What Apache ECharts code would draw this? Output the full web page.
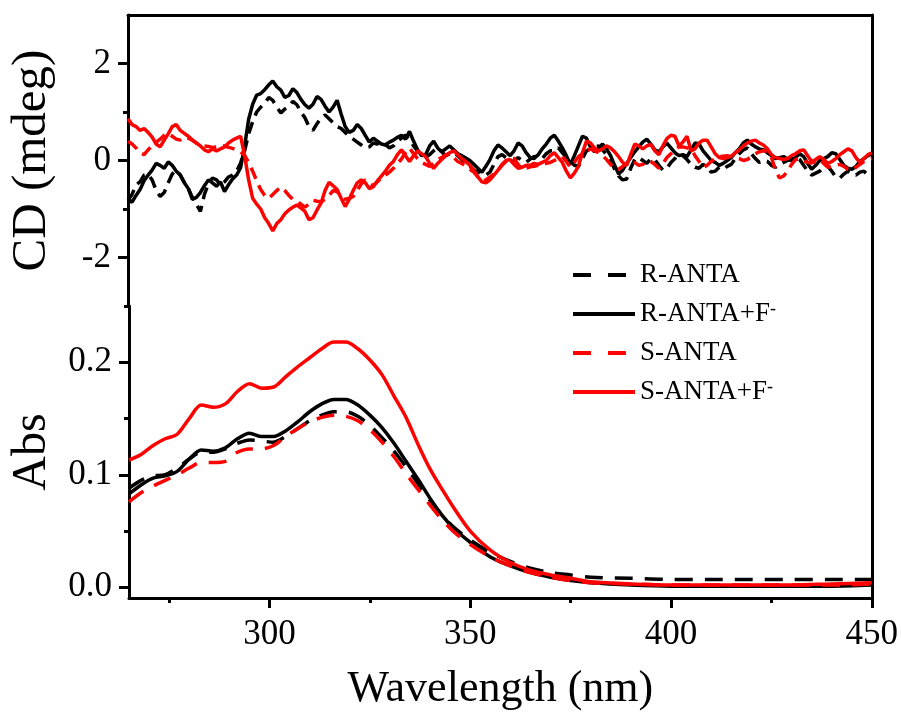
<!DOCTYPE html>
<html>
<head>
<meta charset="utf-8">
<script src="https://cdn.jsdelivr.net/npm/echarts@6/dist/echarts.min.js"></script>
<style>
html,body{margin:0;padding:0;background:#fff;}
#chart{width:901px;height:713px;}
</style>
</head>
<body>
<div id="chart"></div>
<script>
// ---------- DATA ----------
var seriesNames = ['R-ANTA', 'R-ANTA+F-', 'S-ANTA', 'S-ANTA+F-'];

// CD panel wavelengths (nm)
var cdWavelength = [265,266,267,268,269,270,271,272,273,274,275,276,277,278,279,280,281,282,283,284,285,286,287,288,289,290,291,292,293,294,295,296,297,298,299,300,301,302,303,304,305,306,307,308,309,310,311,312,313,314,315,316,317,318,319,320,321,322,323,324,325,326,327,328,329,330,331,332,333,334,335,336,337,338,339,340,341,342,343,344,345,346,347,348,349,350,351,352,353,354,355,356,357,358,359,360,361,362,363,364,365,366,367,368,369,370,371,372,373,374,375,376,377,378,379,380,381,382,383,384,385,386,387,388,389,390,391,392,393,394,395,396,397,398,399,400,401,402,403,404,405,406,407,408,409,410,411,412,413,414,415,416,417,418,419,420,421,422,423,424,425,426,427,428,429,430,431,432,433,434,435,436,437,438,439,440,441,442,443,444,445,446,447,448,449,450];

var cdR = [-0.82,-0.70,-0.50,-0.44,-0.30,-0.28,-0.40,-0.62,-0.74,-0.66,-0.46,-0.28,-0.20,-0.30,-0.45,-0.58,-0.76,-0.90,-1.05,-0.70,-0.48,-0.36,-0.40,-0.50,-0.44,-0.34,-0.30,-0.22,-0.05,0.20,0.55,0.80,1.00,1.10,1.18,1.30,1.24,1.10,0.98,1.06,1.12,1.22,1.15,1.00,0.88,0.70,0.62,0.76,0.88,0.94,0.86,0.78,0.70,0.66,0.58,0.50,0.44,0.38,0.32,0.26,0.28,0.36,0.34,0.38,0.33,0.26,0.30,0.40,0.46,0.52,0.44,0.30,0.20,0.12,0.06,0.12,0.20,0.26,0.18,0.10,0.14,0.16,0.10,0.02,-0.08,-0.12,-0.20,-0.24,-0.27,-0.30,-0.24,-0.08,0.08,0.12,0.06,-0.04,0.00,0.06,0.00,-0.04,0.03,0.08,0.09,0.04,0.14,0.20,0.20,0.26,0.16,0.06,-0.02,-0.10,-0.12,0.04,0.20,0.24,0.28,0.30,0.22,0.12,0.02,-0.18,-0.32,-0.40,-0.38,-0.16,0.02,0.06,0.00,-0.06,0.04,0.02,-0.10,-0.20,-0.16,-0.04,0.04,0.14,0.10,0.02,-0.08,-0.14,-0.16,-0.08,-0.14,-0.24,-0.22,-0.14,-0.18,-0.12,-0.08,0.04,0.14,0.22,0.26,0.14,0.04,-0.04,0.00,-0.02,-0.10,-0.14,-0.08,-0.04,0.00,0.06,0.08,0.02,-0.10,-0.22,-0.30,-0.26,-0.22,-0.14,-0.12,-0.22,-0.34,-0.36,-0.28,-0.22,-0.27,-0.30,-0.24,-0.22,-0.30,-0.35];

var cdRF = [-0.80,-0.86,-0.72,-0.60,-0.42,-0.30,-0.20,-0.06,-0.10,-0.16,-0.03,-0.10,-0.22,-0.30,-0.46,-0.58,-0.80,-0.76,-0.66,-0.52,-0.40,-0.46,-0.53,-0.44,-0.64,-0.50,-0.38,-0.30,-0.15,0.30,0.85,1.16,1.35,1.38,1.46,1.56,1.64,1.52,1.45,1.30,1.34,1.48,1.40,1.26,1.15,1.08,1.16,1.32,1.26,1.12,1.00,1.10,1.24,0.96,0.70,0.58,0.62,0.74,0.66,0.52,0.38,0.46,0.40,0.34,0.32,0.38,0.42,0.48,0.52,0.44,0.60,0.40,0.22,0.10,0.12,0.30,0.40,0.26,0.18,0.24,0.30,0.22,0.14,0.10,0.05,0.00,-0.08,-0.16,-0.24,-0.12,0.02,0.20,0.32,0.26,0.18,0.10,0.20,0.36,0.30,0.16,0.06,0.04,0.12,0.24,0.34,0.46,0.52,0.40,0.26,0.10,-0.08,0.10,0.30,0.50,0.46,0.28,0.18,0.26,0.34,0.24,0.10,-0.10,-0.28,-0.20,-0.06,0.06,0.18,0.28,0.38,0.44,0.34,0.22,0.18,0.28,0.36,0.26,0.16,0.10,0.12,0.08,0.22,0.36,0.34,0.20,0.10,0.00,-0.04,-0.10,-0.06,0.00,0.06,0.16,0.24,0.36,0.42,0.34,0.28,0.24,0.22,0.16,0.10,0.04,0.06,0.08,0.03,0.00,0.06,0.14,0.08,-0.06,-0.18,-0.10,0.00,0.04,0.08,0.16,0.14,0.02,-0.10,-0.16,-0.18,-0.12,-0.02,0.04,0.10,0.14];

var cdS = [0.40,0.34,0.26,0.16,0.12,0.22,0.30,0.38,0.44,0.52,0.56,0.50,0.44,0.42,0.48,0.46,0.42,0.36,0.33,0.30,0.29,0.27,0.28,0.31,0.30,0.27,0.25,0.22,0.18,0.10,-0.04,-0.22,-0.42,-0.60,-0.72,-0.78,-0.70,-0.62,-0.55,-0.62,-0.72,-0.80,-0.84,-0.90,-0.96,-0.90,-0.82,-0.84,-0.85,-0.80,-0.72,-0.62,-0.64,-0.74,-0.80,-0.78,-0.74,-0.62,-0.48,-0.40,-0.46,-0.52,-0.44,-0.36,-0.30,-0.24,-0.16,-0.06,0.03,0.16,0.26,0.14,0.04,-0.04,-0.08,-0.12,-0.06,0.02,0.06,0.12,0.14,0.06,-0.02,-0.06,-0.12,-0.18,-0.24,-0.34,-0.42,-0.40,-0.34,-0.28,-0.20,-0.10,-0.02,0.06,0.04,-0.08,-0.18,-0.16,-0.13,-0.12,-0.10,-0.08,-0.06,-0.04,0.00,0.04,0.08,-0.02,-0.14,-0.04,0.08,0.14,0.20,0.24,0.20,0.16,0.10,0.02,-0.08,-0.16,-0.18,-0.12,-0.06,0.00,-0.04,-0.10,-0.08,-0.02,-0.02,-0.08,-0.16,-0.06,0.06,0.14,0.22,0.28,0.28,0.26,0.24,0.10,-0.02,-0.14,-0.10,-0.02,0.04,0.08,0.09,0.10,0.08,0.06,0.04,0.00,0.02,0.08,0.14,0.18,0.20,0.18,0.06,-0.20,-0.36,-0.32,-0.22,-0.08,0.02,0.04,0.00,-0.04,-0.05,-0.02,0.02,-0.06,-0.14,-0.12,-0.10,-0.08,-0.12,-0.18,-0.20,-0.14,-0.08,-0.02,0.02,0.04];

var cdSF = [0.86,0.74,0.70,0.62,0.66,0.58,0.48,0.34,0.28,0.42,0.55,0.70,0.74,0.62,0.56,0.50,0.42,0.36,0.30,0.22,0.18,0.24,0.20,0.24,0.28,0.36,0.42,0.46,0.50,0.10,-0.40,-0.78,-0.90,-1.00,-1.18,-1.30,-1.45,-1.30,-1.22,-1.10,-1.02,-0.96,-0.92,-0.98,-1.05,-1.22,-1.18,-1.02,-0.88,-0.62,-0.45,-0.52,-0.60,-0.78,-0.95,-0.80,-0.62,-0.46,-0.40,-0.46,-0.58,-0.54,-0.42,-0.32,-0.22,-0.10,-0.02,0.12,0.22,0.10,-0.02,0.10,0.20,0.14,0.08,-0.06,-0.16,-0.06,0.02,0.10,0.16,0.20,0.12,0.04,-0.02,-0.10,-0.20,-0.34,-0.44,-0.46,-0.40,-0.30,-0.20,-0.08,0.00,0.02,-0.08,-0.16,-0.14,-0.10,-0.10,-0.06,-0.08,-0.04,0.00,0.10,0.16,0.06,-0.04,-0.22,-0.36,-0.26,-0.12,0.16,0.40,0.36,0.26,0.20,0.24,0.30,0.26,0.18,0.08,-0.04,-0.10,0.12,0.34,0.30,0.24,0.30,0.33,0.20,0.12,0.30,0.45,0.52,0.50,0.30,0.38,0.50,0.20,0.24,0.36,0.42,0.42,0.28,0.14,0.06,0.04,0.06,0.09,0.16,0.22,0.30,0.36,0.40,0.42,0.36,0.32,0.24,0.12,0.06,0.04,0.02,0.04,0.10,0.14,0.20,0.22,0.10,-0.02,0.02,0.08,0.02,-0.06,-0.02,0.04,0.12,0.18,0.24,0.20,0.06,-0.04,0.04,0.12,0.16];

// Abs panel wavelengths (nm)
var absWavelength = [265,268,271,274,277,280,283,286,289,292,295,298,301,304,307,310,313,316,319,322,325,328,331,334,337,340,343,346,350,355,360,365,370,375,380,390,400,410,420,430,440,450];

var absR  = [0.088,0.095,0.099,0.100,0.106,0.114,0.120,0.120,0.123,0.128,0.131,0.130,0.129,0.134,0.141,0.148,0.153,0.156,0.156,0.152,0.144,0.133,0.121,0.107,0.092,0.077,0.064,0.053,0.042,0.031,0.023,0.017,0.013,0.011,0.009,0.008,0.007,0.007,0.007,0.007,0.007,0.007];
var absRF = [0.083,0.091,0.097,0.099,0.103,0.114,0.122,0.121,0.124,0.132,0.137,0.134,0.134,0.139,0.147,0.156,0.163,0.167,0.167,0.162,0.153,0.142,0.128,0.112,0.096,0.079,0.064,0.052,0.040,0.027,0.019,0.013,0.009,0.006,0.004,0.002,0.001,0.001,0.001,0.001,0.001,0.002];
var absS  = [0.076,0.084,0.090,0.095,0.100,0.106,0.111,0.111,0.112,0.120,0.123,0.123,0.126,0.134,0.141,0.147,0.151,0.153,0.152,0.148,0.140,0.129,0.116,0.101,0.087,0.073,0.060,0.049,0.038,0.027,0.019,0.013,0.009,0.006,0.004,0.003,0.002,0.002,0.002,0.002,0.002,0.003];
var absSF = [0.113,0.118,0.126,0.132,0.136,0.150,0.162,0.160,0.163,0.174,0.181,0.177,0.178,0.187,0.196,0.204,0.212,0.218,0.218,0.212,0.202,0.189,0.170,0.151,0.127,0.105,0.087,0.070,0.050,0.033,0.022,0.015,0.011,0.008,0.005,0.003,0.002,0.002,0.002,0.002,0.003,0.004];

var xTickLabels = [300, 350, 400, 450];
var xMinorTicks = [275, 325, 375, 425];
var cdTickLabels = [-2, 0, 2];
var cdMinorTicks = [-1, 1];
var absTickLabels = [0, 0.1, 0.2];
var absMinorTicks = [0.05, 0.15, 0.25];

// ---------- CHART ----------
var FONT = 'Liberation Serif';
var chart = echarts.init(document.getElementById('chart'), null, {renderer: 'canvas'});

function pairs(xs, ys) { return xs.map(function (x, i) { return [x, ys[i]]; }); }

var colors = ['#000000', '#000000', '#ff0000', '#ff0000'];
var cdDashes = [[12, 7], 'solid', [12, 7], 'solid'];
var absDashes = [[18, 12], 'solid', [18, 12], 'solid'];
var cdData = [cdR, cdRF, cdS, cdSF];
var absData = [absR, absRF, absS, absSF];

var series = [];
for (var i = 0; i < 4; i++) {
  series.push({
    name: seriesNames[i], type: 'line', xAxisIndex: 0, yAxisIndex: 0,
    data: pairs(cdWavelength, cdData[i]), symbol: 'none',
    lineStyle: {color: colors[i], width: 3.5, type: cdDashes[i]}, itemStyle: {color: colors[i]}
  });
}
for (var j = 0; j < 4; j++) {
  series.push({
    name: seriesNames[j], type: 'line', xAxisIndex: 1, yAxisIndex: 3,
    data: pairs(absWavelength, absData[j]), symbol: 'none', smooth: 0.3,
    lineStyle: {color: colors[j], width: 3.5, type: absDashes[j]}, itemStyle: {color: colors[j]}
  });
}

function axLine() { return {show: true, onZero: false, lineStyle: {color: '#000', width: 3}}; }
function noLine() { return {show: false, onZero: false}; }
var labelStyle = {fontFamily: FONT, fontSize: 35, color: '#000'};

var option = {
  animation: false,
  backgroundColor: '#fff',
  grid: [
    {left: 125, right: 29, top: 15, height: 291, show: false},
    {left: 125, right: 29, top: 306, height: 292, show: false}
  ],
  xAxis: [
    {type: 'value', gridIndex: 0, position: 'top', min: 265, max: 450,
     axisLine: axLine(), axisTick: {show: false}, axisLabel: {show: false}, splitLine: {show: false}},
    {type: 'value', gridIndex: 1, position: 'bottom', min: 265, max: 450,
     axisLine: axLine(),
     axisTick: {show: true, inside: false, length: 10, lineStyle: {color: '#000', width: 3}, customValues: xTickLabels},
     axisLabel: Object.assign({margin: 19, customValues: xTickLabels}, labelStyle),
     splitLine: {show: false},
     name: 'Wavelength (nm)', nameLocation: 'middle', nameGap: 69,
     nameTextStyle: {fontFamily: FONT, fontSize: 44, color: '#000'}},
    {type: 'value', gridIndex: 1, position: 'bottom', min: 265, max: 450,
     axisLine: noLine(),
     axisTick: {show: true, inside: false, length: 5, lineStyle: {color: '#000', width: 3}, customValues: xMinorTicks},
     axisLabel: {show: false}, splitLine: {show: false}}
  ],
  yAxis: [
    {type: 'value', gridIndex: 0, position: 'left', min: -3, max: 3,
     axisLine: axLine(),
     axisTick: {show: true, inside: false, length: 10, lineStyle: {color: '#000', width: 3}, customValues: cdTickLabels},
     axisLabel: Object.assign({margin: 17, customValues: cdTickLabels}, labelStyle),
     splitLine: {show: false},
     name: 'CD (mdeg)', nameLocation: 'middle', nameGap: 71,
     nameTextStyle: {fontFamily: FONT, fontSize: 49, color: '#000'}},
    {type: 'value', gridIndex: 0, position: 'left', min: -3, max: 3,
     axisLine: noLine(),
     axisTick: {show: true, inside: false, length: 5, lineStyle: {color: '#000', width: 3}, customValues: cdMinorTicks},
     axisLabel: {show: false}, splitLine: {show: false}},
    {type: 'value', gridIndex: 0, position: 'right', min: -3, max: 3,
     axisLine: axLine(), axisTick: {show: false}, axisLabel: {show: false}, splitLine: {show: false}},
    {type: 'value', gridIndex: 1, position: 'left', min: -0.0095, max: 0.25,
     axisLine: axLine(),
     axisTick: {show: true, inside: false, length: 10, lineStyle: {color: '#000', width: 3}, customValues: absTickLabels},
     axisLabel: Object.assign({margin: 17, customValues: absTickLabels,
       formatter: function (v) { return v.toFixed(1); }}, labelStyle),
     splitLine: {show: false},
     name: 'Abs', nameLocation: 'middle', nameGap: 73,
     nameTextStyle: {fontFamily: FONT, fontSize: 48, color: '#000'}},
    {type: 'value', gridIndex: 1, position: 'left', min: -0.0095, max: 0.25,
     axisLine: noLine(),
     axisTick: {show: true, inside: false, length: 5, lineStyle: {color: '#000', width: 3}, customValues: absMinorTicks},
     axisLabel: {show: false}, splitLine: {show: false}},
    {type: 'value', gridIndex: 1, position: 'right', min: -0.0095, max: 0.25,
     axisLine: axLine(), axisTick: {show: false}, axisLabel: {show: false}, splitLine: {show: false}}
  ],
  legend: {
    orient: 'vertical', left: 566, top: 256,
    itemWidth: 62, itemHeight: 14, itemGap: 11,
    itemStyle: {opacity: 0, color: 'transparent', borderWidth: 0},
    data: [
      {name: seriesNames[0], lineStyle: {type: [18, 17], width: 4}},
      {name: seriesNames[1], lineStyle: {width: 4}},
      {name: seriesNames[2], lineStyle: {type: [18, 17], width: 4}},
      {name: seriesNames[3], lineStyle: {width: 4}}
    ],
    formatter: function (name) {
      if (name.slice(-3) === '+F-') return '{n|' + name.slice(0, -1) + '}{s|-}';
      return '{n|' + name + '}';
    },
    textStyle: {
      fontFamily: FONT, fontSize: 27, color: '#000', lineHeight: 28,
      rich: {
        n: {fontFamily: FONT, fontSize: 27, color: '#000', lineHeight: 28},
        s: {fontFamily: FONT, fontSize: 18, color: '#000', verticalAlign: 'top', lineHeight: 14}
      }
    }
  },
  series: series
};
chart.setOption(option);
</script>
</body>
</html>
